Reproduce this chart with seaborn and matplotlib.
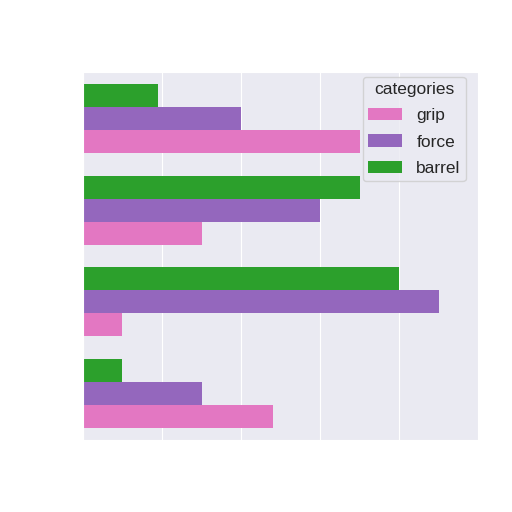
import seaborn as sns
import pandas as pd
import matplotlib.pyplot as plt

# values (one group per row of bars, top to bottom)
groups = ['g1', 'g2', 'g3', 'g4']
grip = [35, 15, 5, 24]
force = [20, 30, 45, 15]
barrel = [9.5, 35, 40, 5]
series = ['grip', 'force', 'barrel']
colors = {'grip': '#e377c2', 'force': '#9467bd', 'barrel': '#2ca02c'}

df = pd.DataFrame({'group': groups * 3,
                   'categories': ['grip'] * 4 + ['force'] * 4 + ['barrel'] * 4,
                   'value': grip + force + barrel})

sns.set_style('darkgrid')
plt.rcParams['font.family'] = ['Liberation Sans', 'DejaVu Sans']

fig = plt.figure(figsize=(5.12, 5.12), dpi=100)
ax = fig.add_axes([0.162, 0.141, 0.772, 0.718])

# barrel drawn on top of each group, grip at the bottom
sns.barplot(data=df, y='group', x='value', hue='categories',
            hue_order=series[::-1], palette=colors, width=0.75,
            saturation=1, linewidth=0, orient='h', ax=ax)

ax.set_xlim(0, 50)
ax.set_xticks([0, 10, 20, 30, 40])
ax.set_xticklabels([])
ax.set_yticklabels([])
ax.set_xlabel('')
ax.set_ylabel('')
ax.tick_params(length=0)

handles, labels = ax.get_legend_handles_labels()
order = [labels.index(s) for s in series]
ax.legend([handles[i] for i in order], series, title='categories',
          loc='upper right', bbox_to_anchor=(0.98, 1.0),
          fontsize=12.5, title_fontsize=12.5,
          labelspacing=0.65, borderaxespad=0.25, borderpad=0.3)

plt.savefig('out.png', dpi=100)
